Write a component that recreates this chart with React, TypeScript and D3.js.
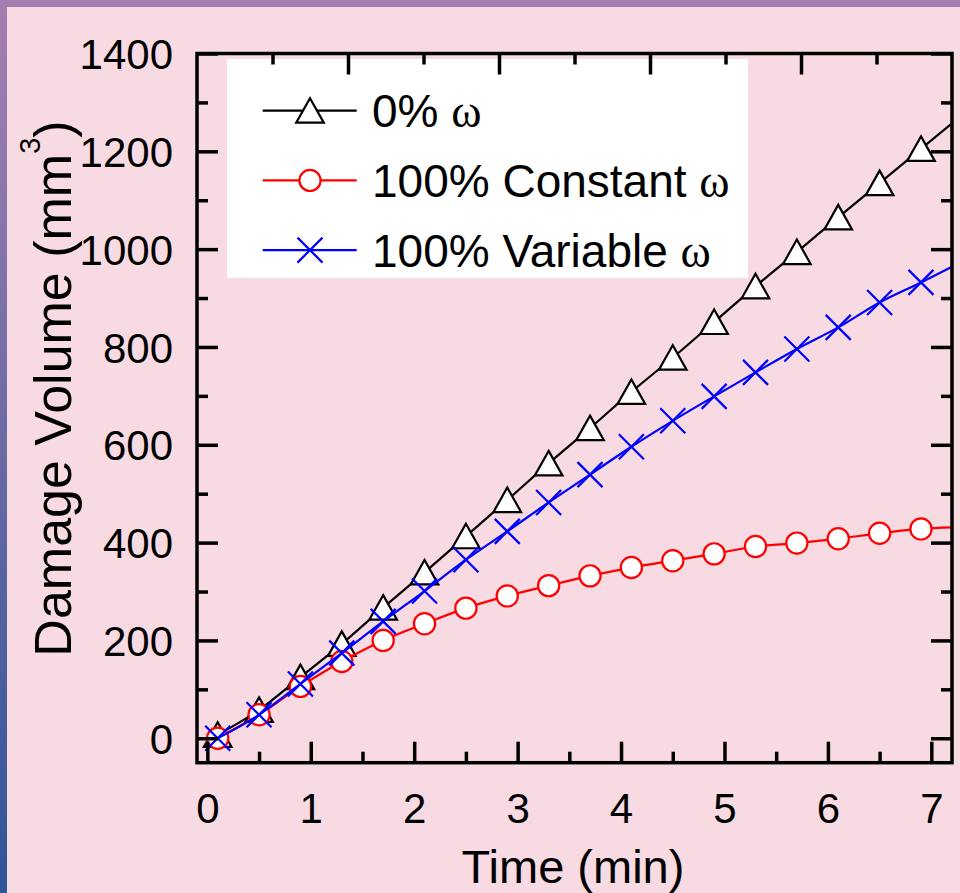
import { useEffect, useRef } from "react";
import * as d3 from "d3";

// time (min) of every marker
const times = [0.1, 0.5, 0.9, 1.3, 1.7, 2.1, 2.5, 2.9, 3.3, 3.7, 4.1, 4.5, 4.9, 5.3, 5.7, 6.1, 6.5, 6.9];
// the curves run on to the right edge of the frame
const tailTime = 7.2;

// damage volume (mm^3)
const noOmega = [7, 58, 125, 193, 267, 339, 413, 487, 562, 634, 708, 778, 851, 924, 994, 1065, 1135, 1205];
const constantOmega = [0, 48, 106, 157, 200, 234, 266, 291, 312, 332, 349, 363, 377, 392, 399, 408, 419, 428];
const variableOmega = [0, 48, 111, 174, 239, 301, 365, 423, 482, 539, 596, 649, 699, 748, 796, 840, 891, 932];
const tailValues = [1257, 431, 964];

const seriesLabels = ["0% ", "100% Constant ", "100% Variable "];
const seriesColors = ["#000000", "#ff0000", "#0000ff"];
const seriesSymbols = ["triangle", "circle", "cross"];

const xTicks = [0, 1, 2, 3, 4, 5, 6, 7];
const xMinorTicks = [0.5, 1.5, 2.5, 3.5, 4.5, 5.5, 6.5];
const yTicks = [0, 200, 400, 600, 800, 1000, 1200, 1400];
const yMinorTicks = [100, 300, 500, 700, 900, 1100, 1300];
const topTicks = [2, 4, 6, 8];
const topMinorTicks = [1, 3, 5, 7, 9];

const W = 960;
const H = 893;
const plot = { left: 197, right: 952, top: 53.5, bottom: 762.7 };
const SANS = "'Liberation Sans', Arial, Helvetica, sans-serif";
const SERIF = "'Liberation Serif', 'Times New Roman', serif";

function drawMarker(g: any, kind: string, cx: number, cy: number, color: string) {
  if (kind === "triangle") {
    g.append("path")
      .attr("d", "M0,-12.5L13.8,12L-13.8,12Z")
      .attr("transform", `translate(${cx},${cy})`)
      .attr("fill", "#fff")
      .attr("stroke", color)
      .attr("stroke-width", 2.2);
  } else if (kind === "circle") {
    g.append("circle")
      .attr("cx", cx)
      .attr("cy", cy)
      .attr("r", 10.6)
      .attr("fill", "#fff")
      .attr("stroke", color)
      .attr("stroke-width", 2.2);
  } else {
    g.append("path")
      .attr("d", "M-12.5,-12.5L12.5,12.5M-12.5,12.5L12.5,-12.5")
      .attr("transform", `translate(${cx},${cy})`)
      .attr("fill", "none")
      .attr("stroke", color)
      .attr("stroke-width", 2.2);
  }
}

export default function App() {
  const svgRef = useRef(null);

  useEffect(() => {
    const svg = d3.select(svgRef.current);
    svg.selectAll("*").remove();

    const x = d3.scaleLinear().domain([-0.1, 7.2]).range([plot.left, plot.right]);
    const y = d3.scaleLinear().domain([-50, 1400]).range([plot.bottom, plot.top]);
    const xTop = d3.scaleLinear().domain([0, 10]).range([plot.left, plot.right]);

    // background with the purple/blue band on top and left
    const defs = svg.append("defs");
    const grad = defs
      .append("linearGradient")
      .attr("id", "band-gradient")
      .attr("x1", "0%")
      .attr("x2", "0%")
      .attr("y1", "0%")
      .attr("y2", "100%");
    grad.append("stop").attr("offset", "0%").attr("stop-color", "#a57fb1");
    grad.append("stop").attr("offset", "100%").attr("stop-color", "#2e5597");

    defs
      .append("clipPath")
      .attr("id", "plot-clip")
      .append("rect")
      .attr("x", plot.left)
      .attr("y", plot.top)
      .attr("width", plot.right - plot.left)
      .attr("height", plot.bottom - plot.top);

    svg.append("rect").attr("width", W).attr("height", H).attr("fill", "#f8dae3");
    svg.append("rect").attr("width", W).attr("height", 7).attr("fill", "#a57fb1");
    svg.append("rect").attr("width", 7).attr("height", H).attr("fill", "url(#band-gradient)");

    // legend box
    const legend = svg.append("g");
    legend
      .append("rect")
      .attr("x", 227)
      .attr("y", 59)
      .attr("width", 521)
      .attr("height", 219)
      .attr("fill", "#ffffff");

    const allSeries = [noOmega, constantOmega, variableOmega];

    // curves and markers
    allSeries.forEach((vals, i) => {
      const pts = times.map((t, j) => [t, vals[j]]);
      pts.push([tailTime, tailValues[i]]);
      const line = d3
        .line()
        .x((d: any) => x(d[0]))
        .y((d: any) => y(d[1]))
        .curve(d3.curveMonotoneX);
      svg
        .append("path")
        .datum(pts)
        .attr("clip-path", "url(#plot-clip)")
        .attr("fill", "none")
        .attr("stroke", seriesColors[i])
        .attr("stroke-width", 2.2)
        .attr("d", line as any);
      const mg = svg.append("g");
      times.forEach((t, j) => drawMarker(mg, seriesSymbols[i], x(t), y(vals[j]), seriesColors[i]));
    });

    // legend rows
    seriesLabels.forEach((label, i) => {
      const ry = 110.7 + i * 69.7;
      legend
        .append("line")
        .attr("x1", 262.7)
        .attr("x2", 356.7)
        .attr("y1", ry)
        .attr("y2", ry)
        .attr("stroke", seriesColors[i])
        .attr("stroke-width", 2.2);
      drawMarker(legend, seriesSymbols[i], 310, ry, seriesColors[i]);
      const t = legend
        .append("text")
        .attr("x", 372)
        .attr("y", ry + 16.5)
        .attr("font-family", SANS)
        .attr("font-size", 46)
        .attr("fill", "#000");
      t.append("tspan").text(label);
      t.append("tspan").attr("font-family", SERIF).text("ω");
    });

    // axes: ticks pointing inward
    const styleAxis = (g: any) => {
      g.select(".domain").remove();
      g.selectAll("line").attr("stroke", "#000").attr("stroke-width", 3.5);
      g.selectAll("text")
        .attr("font-family", SANS)
        .attr("font-size", 42)
        .attr("fill", "#000");
    };

    svg
      .append("g")
      .attr("transform", `translate(0,${plot.bottom})`)
      .call(d3.axisBottom(x).tickValues(xTicks).tickSize(-21).tickSizeOuter(0).tickPadding(30).tickFormat(d3.format("d")))
      .call(styleAxis);
    svg
      .append("g")
      .attr("transform", `translate(0,${plot.bottom})`)
      .call(d3.axisBottom(x).tickValues(xMinorTicks).tickSize(-11).tickSizeOuter(0).tickFormat(() => ""))
      .call(styleAxis);

    svg
      .append("g")
      .attr("transform", `translate(${plot.left},0)`)
      .call(d3.axisLeft(y).tickValues(yTicks).tickSize(-21).tickSizeOuter(0).tickPadding(24).tickFormat(d3.format("d")))
      .call(styleAxis)
      .call((g: any) => g.selectAll("text").attr("dy", "0.36em"));
    svg
      .append("g")
      .attr("transform", `translate(${plot.left},0)`)
      .call(d3.axisLeft(y).tickValues(yMinorTicks).tickSize(-11).tickSizeOuter(0).tickFormat(() => ""))
      .call(styleAxis);

    svg
      .append("g")
      .attr("transform", `translate(${plot.right},0)`)
      .call(d3.axisRight(y).tickValues(yTicks).tickSize(-21).tickSizeOuter(0).tickFormat(() => ""))
      .call(styleAxis);
    svg
      .append("g")
      .attr("transform", `translate(${plot.right},0)`)
      .call(d3.axisRight(y).tickValues(yMinorTicks).tickSize(-11).tickSizeOuter(0).tickFormat(() => ""))
      .call(styleAxis);

    svg
      .append("g")
      .attr("transform", `translate(0,${plot.top})`)
      .call(d3.axisTop(xTop).tickValues(topTicks).tickSize(-21).tickSizeOuter(0).tickFormat(() => ""))
      .call(styleAxis);
    svg
      .append("g")
      .attr("transform", `translate(0,${plot.top})`)
      .call(d3.axisTop(xTop).tickValues(topMinorTicks).tickSize(-11).tickSizeOuter(0).tickFormat(() => ""))
      .call(styleAxis);

    // frame
    svg
      .append("rect")
      .attr("x", plot.left)
      .attr("y", plot.top)
      .attr("width", plot.right - plot.left)
      .attr("height", plot.bottom - plot.top)
      .attr("fill", "none")
      .attr("stroke", "#000")
      .attr("stroke-width", 3.5);

    // axis titles
    svg
      .append("text")
      .attr("x", 573)
      .attr("y", 883)
      .attr("text-anchor", "middle")
      .attr("font-family", SANS)
      .attr("font-size", 47)
      .attr("fill", "#000")
      .text("Time (min)");

    const yt = svg
      .append("text")
      .attr("transform", "translate(71,388.5) rotate(-90)")
      .attr("text-anchor", "middle")
      .attr("font-family", SANS)
      .attr("font-size", 52)
      .attr("fill", "#000");
    yt.append("tspan").text("Damage Volume (mm");
    yt.append("tspan").attr("font-size", 29).attr("dy", -31).text("3");
    yt.append("tspan").attr("dy", 31).text(")");
  }, []);

  return (
    <div style={{ position: "absolute", left: 0, top: 0, width: W, height: H }}>
      <svg ref={svgRef} width={W} height={H}></svg>
    </div>
  );
}
